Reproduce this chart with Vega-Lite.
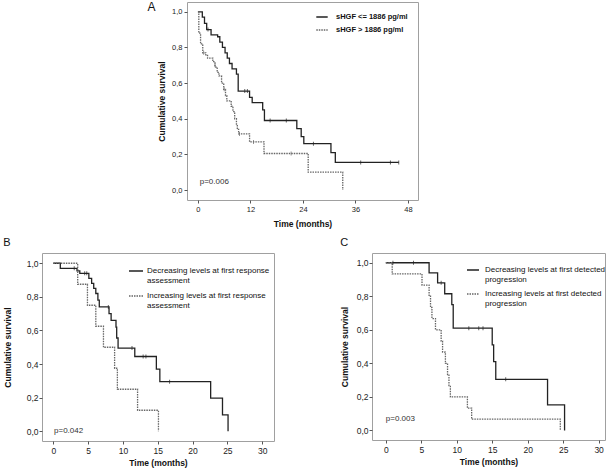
{
  "$schema": "https://vega.github.io/schema/vega-lite/v6.json",
  "padding": {"left": 2, "top": 0, "right": 0, "bottom": 0},
  "background": "white",
  "config": {
    "font": "Liberation Sans",
    "view": {"stroke": "#a0a0a0", "strokeWidth": 1},
    "axis": {"grid": false, "domain": false, "ticks": true, "tickColor": "#555", "tickSize": 3, "labelColor": "#222", "labelFont": "Liberation Sans", "titleFont": "Liberation Sans", "titleFontWeight": "bold", "titleColor": "#111", "labelPadding": 2, "titlePadding": 4, "labelOverlap": false},
    "legend": {"padding": 0, "symbolType": "stroke"},
    "title": {"fontWeight": "normal", "color": "#111", "font": "Liberation Sans"}
  },
  "resolve": {"scale": {"color": "independent", "strokeDash": "independent", "fill": "independent", "x": "independent", "y": "independent"}, "legend": {"color": "independent", "strokeDash": "independent"}},
  "datasets": {
    "A_curve": [
      {"group": "sHGF <= 1886 pg/ml", "t": 0, "S": 1},
      {"group": "sHGF <= 1886 pg/ml", "t": 1.0, "S": 0.97},
      {"group": "sHGF <= 1886 pg/ml", "t": 1.5, "S": 0.935},
      {"group": "sHGF <= 1886 pg/ml", "t": 2.0, "S": 0.9},
      {"group": "sHGF <= 1886 pg/ml", "t": 3.0, "S": 0.87},
      {"group": "sHGF <= 1886 pg/ml", "t": 4.5, "S": 0.86},
      {"group": "sHGF <= 1886 pg/ml", "t": 5.0, "S": 0.83},
      {"group": "sHGF <= 1886 pg/ml", "t": 5.6, "S": 0.8},
      {"group": "sHGF <= 1886 pg/ml", "t": 6.2, "S": 0.77},
      {"group": "sHGF <= 1886 pg/ml", "t": 6.7, "S": 0.74},
      {"group": "sHGF <= 1886 pg/ml", "t": 7.2, "S": 0.71},
      {"group": "sHGF <= 1886 pg/ml", "t": 7.8, "S": 0.68},
      {"group": "sHGF <= 1886 pg/ml", "t": 8.8, "S": 0.65},
      {"group": "sHGF <= 1886 pg/ml", "t": 9.2, "S": 0.555},
      {"group": "sHGF <= 1886 pg/ml", "t": 11.8, "S": 0.52},
      {"group": "sHGF <= 1886 pg/ml", "t": 12.4, "S": 0.49},
      {"group": "sHGF <= 1886 pg/ml", "t": 14.8, "S": 0.45},
      {"group": "sHGF <= 1886 pg/ml", "t": 15.2, "S": 0.39},
      {"group": "sHGF <= 1886 pg/ml", "t": 22.6, "S": 0.345},
      {"group": "sHGF <= 1886 pg/ml", "t": 23.6, "S": 0.3},
      {"group": "sHGF <= 1886 pg/ml", "t": 24.2, "S": 0.26},
      {"group": "sHGF <= 1886 pg/ml", "t": 30.4, "S": 0.21},
      {"group": "sHGF <= 1886 pg/ml", "t": 31.4, "S": 0.155},
      {"group": "sHGF <= 1886 pg/ml", "t": 45.9, "S": 0.155},
      {"group": "sHGF > 1886 pg/ml", "t": 0, "S": 1},
      {"group": "sHGF > 1886 pg/ml", "t": 0.2, "S": 0.88},
      {"group": "sHGF > 1886 pg/ml", "t": 0.6, "S": 0.82},
      {"group": "sHGF > 1886 pg/ml", "t": 1.1, "S": 0.77},
      {"group": "sHGF > 1886 pg/ml", "t": 1.8, "S": 0.755},
      {"group": "sHGF > 1886 pg/ml", "t": 2.2, "S": 0.74},
      {"group": "sHGF > 1886 pg/ml", "t": 3.4, "S": 0.72},
      {"group": "sHGF > 1886 pg/ml", "t": 3.9, "S": 0.69},
      {"group": "sHGF > 1886 pg/ml", "t": 4.4, "S": 0.66},
      {"group": "sHGF > 1886 pg/ml", "t": 4.8, "S": 0.64},
      {"group": "sHGF > 1886 pg/ml", "t": 5.4, "S": 0.6},
      {"group": "sHGF > 1886 pg/ml", "t": 5.9, "S": 0.565},
      {"group": "sHGF > 1886 pg/ml", "t": 6.3, "S": 0.53},
      {"group": "sHGF > 1886 pg/ml", "t": 6.6, "S": 0.5},
      {"group": "sHGF > 1886 pg/ml", "t": 7.6, "S": 0.47},
      {"group": "sHGF > 1886 pg/ml", "t": 8.0, "S": 0.44},
      {"group": "sHGF > 1886 pg/ml", "t": 8.4, "S": 0.4},
      {"group": "sHGF > 1886 pg/ml", "t": 8.8, "S": 0.37},
      {"group": "sHGF > 1886 pg/ml", "t": 9.0, "S": 0.34},
      {"group": "sHGF > 1886 pg/ml", "t": 9.3, "S": 0.315},
      {"group": "sHGF > 1886 pg/ml", "t": 11.8, "S": 0.27},
      {"group": "sHGF > 1886 pg/ml", "t": 15.1, "S": 0.205},
      {"group": "sHGF > 1886 pg/ml", "t": 25.2, "S": 0.1},
      {"group": "sHGF > 1886 pg/ml", "t": 33.1, "S": 0.0}
    ],
    "A_cens": [
      {"group": "sHGF <= 1886 pg/ml", "t": 2.3, "S": 0.9},
      {"group": "sHGF <= 1886 pg/ml", "t": 10.7, "S": 0.555},
      {"group": "sHGF <= 1886 pg/ml", "t": 11.3, "S": 0.555},
      {"group": "sHGF <= 1886 pg/ml", "t": 16.5, "S": 0.39},
      {"group": "sHGF <= 1886 pg/ml", "t": 20.2, "S": 0.39},
      {"group": "sHGF <= 1886 pg/ml", "t": 26.4, "S": 0.26},
      {"group": "sHGF <= 1886 pg/ml", "t": 37.2, "S": 0.155},
      {"group": "sHGF <= 1886 pg/ml", "t": 44.0, "S": 0.155},
      {"group": "sHGF <= 1886 pg/ml", "t": 45.9, "S": 0.155},
      {"group": "sHGF > 1886 pg/ml", "t": 1.3, "S": 0.77},
      {"group": "sHGF > 1886 pg/ml", "t": 3.9, "S": 0.7},
      {"group": "sHGF > 1886 pg/ml", "t": 6.0, "S": 0.565},
      {"group": "sHGF > 1886 pg/ml", "t": 9.5, "S": 0.315},
      {"group": "sHGF > 1886 pg/ml", "t": 12.7, "S": 0.27},
      {"group": "sHGF > 1886 pg/ml", "t": 21.3, "S": 0.205}
    ],
    "A_p": [{"t": 0.4, "S": 0.045, "label": "p=0.006"}],
    "B_curve": [
      {"group": "Decreasing levels at first response assessment", "t": 0, "S": 1},
      {"group": "Decreasing levels at first response assessment", "t": 1.0, "S": 0.97},
      {"group": "Decreasing levels at first response assessment", "t": 3.4, "S": 0.955},
      {"group": "Decreasing levels at first response assessment", "t": 3.8, "S": 0.94},
      {"group": "Decreasing levels at first response assessment", "t": 5.1, "S": 0.91},
      {"group": "Decreasing levels at first response assessment", "t": 5.5, "S": 0.88},
      {"group": "Decreasing levels at first response assessment", "t": 5.8, "S": 0.85},
      {"group": "Decreasing levels at first response assessment", "t": 6.1, "S": 0.82},
      {"group": "Decreasing levels at first response assessment", "t": 6.4, "S": 0.78},
      {"group": "Decreasing levels at first response assessment", "t": 6.6, "S": 0.74},
      {"group": "Decreasing levels at first response assessment", "t": 8.0, "S": 0.7},
      {"group": "Decreasing levels at first response assessment", "t": 8.3, "S": 0.66},
      {"group": "Decreasing levels at first response assessment", "t": 9.0, "S": 0.62},
      {"group": "Decreasing levels at first response assessment", "t": 9.1, "S": 0.555},
      {"group": "Decreasing levels at first response assessment", "t": 9.3, "S": 0.495},
      {"group": "Decreasing levels at first response assessment", "t": 11.7, "S": 0.445},
      {"group": "Decreasing levels at first response assessment", "t": 14.8, "S": 0.37},
      {"group": "Decreasing levels at first response assessment", "t": 15.3, "S": 0.295},
      {"group": "Decreasing levels at first response assessment", "t": 22.6, "S": 0.197},
      {"group": "Decreasing levels at first response assessment", "t": 24.3, "S": 0.098},
      {"group": "Decreasing levels at first response assessment", "t": 25.1, "S": 0.0},
      {"group": "Increasing levels at first response assessment", "t": 0, "S": 1},
      {"group": "Increasing levels at first response assessment", "t": 3.5, "S": 0.875},
      {"group": "Increasing levels at first response assessment", "t": 4.9, "S": 0.75},
      {"group": "Increasing levels at first response assessment", "t": 6.1, "S": 0.625},
      {"group": "Increasing levels at first response assessment", "t": 7.2, "S": 0.5},
      {"group": "Increasing levels at first response assessment", "t": 8.8, "S": 0.375},
      {"group": "Increasing levels at first response assessment", "t": 9.2, "S": 0.25},
      {"group": "Increasing levels at first response assessment", "t": 12.1, "S": 0.125},
      {"group": "Increasing levels at first response assessment", "t": 15.1, "S": 0.0}
    ],
    "B_cens": [
      {"group": "Decreasing levels at first response assessment", "t": 3.0, "S": 0.97},
      {"group": "Decreasing levels at first response assessment", "t": 4.5, "S": 0.94},
      {"group": "Decreasing levels at first response assessment", "t": 4.8, "S": 0.94},
      {"group": "Decreasing levels at first response assessment", "t": 7.9, "S": 0.74},
      {"group": "Decreasing levels at first response assessment", "t": 11.3, "S": 0.495},
      {"group": "Decreasing levels at first response assessment", "t": 12.9, "S": 0.445},
      {"group": "Decreasing levels at first response assessment", "t": 13.3, "S": 0.445},
      {"group": "Decreasing levels at first response assessment", "t": 16.7, "S": 0.295}
    ],
    "B_p": [{"t": 0.1, "S": 0.0, "label": "p=0.042"}],
    "C_curve": [
      {"group": "Decreasing levels at first detected progression", "t": 0, "S": 1},
      {"group": "Decreasing levels at first detected progression", "t": 6.1, "S": 0.94},
      {"group": "Decreasing levels at first detected progression", "t": 7.3, "S": 0.88},
      {"group": "Decreasing levels at first detected progression", "t": 8.3, "S": 0.815},
      {"group": "Decreasing levels at first detected progression", "t": 9.3, "S": 0.75},
      {"group": "Decreasing levels at first detected progression", "t": 9.5, "S": 0.61},
      {"group": "Decreasing levels at first detected progression", "t": 15.0, "S": 0.51},
      {"group": "Decreasing levels at first detected progression", "t": 15.2, "S": 0.41},
      {"group": "Decreasing levels at first detected progression", "t": 15.5, "S": 0.305},
      {"group": "Decreasing levels at first detected progression", "t": 22.8, "S": 0.153},
      {"group": "Decreasing levels at first detected progression", "t": 25.2, "S": 0.0},
      {"group": "Increasing levels at first detected progression", "t": 0, "S": 1},
      {"group": "Increasing levels at first detected progression", "t": 0.9, "S": 0.933},
      {"group": "Increasing levels at first detected progression", "t": 5.1, "S": 0.867},
      {"group": "Increasing levels at first detected progression", "t": 6.1, "S": 0.8},
      {"group": "Increasing levels at first detected progression", "t": 6.3, "S": 0.733},
      {"group": "Increasing levels at first detected progression", "t": 6.5, "S": 0.667},
      {"group": "Increasing levels at first detected progression", "t": 7.0, "S": 0.6},
      {"group": "Increasing levels at first detected progression", "t": 7.8, "S": 0.533},
      {"group": "Increasing levels at first detected progression", "t": 8.0, "S": 0.467},
      {"group": "Increasing levels at first detected progression", "t": 8.4, "S": 0.4},
      {"group": "Increasing levels at first detected progression", "t": 8.7, "S": 0.333},
      {"group": "Increasing levels at first detected progression", "t": 8.9, "S": 0.267},
      {"group": "Increasing levels at first detected progression", "t": 9.1, "S": 0.2},
      {"group": "Increasing levels at first detected progression", "t": 11.5, "S": 0.133},
      {"group": "Increasing levels at first detected progression", "t": 12.1, "S": 0.067},
      {"group": "Increasing levels at first detected progression", "t": 24.6, "S": 0.0}
    ],
    "C_cens": [
      {"group": "Decreasing levels at first detected progression", "t": 1.0, "S": 1.0},
      {"group": "Decreasing levels at first detected progression", "t": 3.9, "S": 1.0},
      {"group": "Decreasing levels at first detected progression", "t": 7.8, "S": 0.88},
      {"group": "Decreasing levels at first detected progression", "t": 11.7, "S": 0.61},
      {"group": "Decreasing levels at first detected progression", "t": 13.1, "S": 0.61},
      {"group": "Decreasing levels at first detected progression", "t": 13.7, "S": 0.61},
      {"group": "Decreasing levels at first detected progression", "t": 16.9, "S": 0.305}
    ],
    "C_p": [{"t": 0.0, "S": 0.067, "label": "p=0.003"}]
  },
  "spacing": 7,
  "vconcat": [
    {
      "spacing": 0,
      "resolve": {"scale": {"color": "independent", "strokeDash": "independent", "fill": "independent", "x": "independent", "y": "independent"}, "legend": {"color": "independent", "strokeDash": "independent"}},
      "hconcat": [
        {"width": 105, "height": 10, "data": {"values": []}, "mark": "point", "encoding": {}, "view": {"stroke": null}},
        {
          "width": 231, "height": 198,
          "title": {"text": "A", "orient": "left", "anchor": "end", "angle": 0, "baseline": "top", "align": "right", "offset": -6, "fontSize": 12, "frame": "group"},
          "layer": [
            {
              "data": {"name": "A_curve"},
              "mark": {"type": "line", "interpolate": "step-after", "strokeWidth": 1.3},
              "encoding": {
                "x": {"field": "t", "type": "quantitative", "scale": {"domain": [-2.5, 50.3], "nice": false, "zero": false}, "axis": {"values": [0, 12, 24, 36, 48], "tickCount": 20, "title": "Time (months)", "labelFontSize": 7.5, "titleFontSize": 8.5, "titlePadding": 7, "labelOverlap": false}},
                "y": {"field": "S", "type": "quantitative", "scale": {"domain": [-0.056, 1.055], "nice": false, "zero": false}, "axis": {"values": [0, 0.2, 0.4, 0.6, 0.8, 1], "tickCount": 20, "labelExpr": "replace(format(datum.value, '.1f'), '.', ',')", "title": "Cumulative survival", "labelFontSize": 7.5, "titleFontSize": 8.5, "titlePadding": 5, "labelOverlap": false}},
                "color": {"field": "group", "type": "nominal", "scale": {"domain": ["sHGF <= 1886 pg/ml", "sHGF > 1886 pg/ml"], "range": ["#222222", "#666666"]}, "legend": {"title": null, "orient": "none", "legendX": 128, "legendY": 8, "labelFontSize": 7.5, "labelFontWeight": "bold", "labelColor": "#111", "symbolSize": 130, "symbolStrokeWidth": 1.6, "rowPadding": 2, "labelOffset": 7}},
                "strokeDash": {"field": "group", "type": "nominal", "scale": {"domain": ["sHGF <= 1886 pg/ml", "sHGF > 1886 pg/ml"], "range": [[1, 0], [1.5, 1]]}, "legend": {"title": null, "orient": "none", "legendX": 128, "legendY": 8, "labelFontSize": 7.5, "labelFontWeight": "bold", "labelColor": "#111", "symbolSize": 130, "symbolStrokeWidth": 1.6, "rowPadding": 2, "labelOffset": 7}}
              }
            },
            {
              "data": {"name": "A_cens"},
              "mark": {"type": "tick", "orient": "vertical", "size": 4, "thickness": 1},
              "encoding": {
                "x": {"field": "t", "type": "quantitative"},
                "y": {"field": "S", "type": "quantitative"},
                "fill": {"field": "group", "type": "nominal", "scale": {"domain": ["sHGF <= 1886 pg/ml", "sHGF > 1886 pg/ml"], "range": ["#222222", "#666666"]}, "legend": null}
              }
            },
            {
              "data": {"name": "A_p"},
              "mark": {"type": "text", "align": "left", "baseline": "middle", "fontSize": 8, "color": "#333"},
              "encoding": {"x": {"field": "t", "type": "quantitative"}, "y": {"field": "S", "type": "quantitative"}, "text": {"field": "label"}}
            }
          ]
        }
      ]
    },
    {
      "spacing": 64,
      "resolve": {"scale": {"color": "independent", "strokeDash": "independent", "fill": "independent", "x": "independent", "y": "independent"}, "legend": {"color": "independent", "strokeDash": "independent"}},
      "hconcat": [
        {
          "width": 232, "height": 188,
          "title": {"text": "B", "anchor": "start", "frame": "bounds", "offset": 5, "fontSize": 11},
          "layer": [
            {
              "data": {"name": "B_curve"},
              "mark": {"type": "line", "interpolate": "step-after", "strokeWidth": 1.3},
              "encoding": {
                "x": {"field": "t", "type": "quantitative", "scale": {"domain": [-1.63, 31.7], "nice": false, "zero": false}, "axis": {"values": [0, 5, 10, 15, 20, 25, 30], "tickCount": 20, "title": "Time (months)", "labelFontSize": 8.5, "titleFontSize": 8.5, "labelOverlap": false}},
                "y": {"field": "S", "type": "quantitative", "scale": {"domain": [-0.058, 1.061], "nice": false, "zero": false}, "axis": {"values": [0, 0.2, 0.4, 0.6, 0.8, 1], "tickCount": 20, "labelExpr": "replace(format(datum.value, '.1f'), '.', ',')", "title": "Cumulative survival", "labelFontSize": 8.5, "titleFontSize": 8.5, "titlePadding": 14, "labelPadding": 1, "labelOverlap": false}},
                "color": {"field": "group", "type": "nominal", "scale": {"domain": ["Decreasing levels at first response assessment", "Increasing levels at first response assessment"], "range": ["#222222", "#666666"]}, "legend": {"title": null, "orient": "none", "legendX": 86, "legendY": 10, "labelFontSize": 8, "labelColor": "#111", "symbolSize": 196, "symbolStrokeWidth": 1.6, "rowPadding": 3, "labelOffset": 3, "labelLimit": 300, "labelExpr": "datum.label == 'Decreasing levels at first response assessment' ? ['Decreasing levels at first response', 'assessment'] : ['Increasing levels at first response', 'assessment']"}},
                "strokeDash": {"field": "group", "type": "nominal", "scale": {"domain": ["Decreasing levels at first response assessment", "Increasing levels at first response assessment"], "range": [[1, 0], [1.5, 1]]}, "legend": {"title": null, "orient": "none", "legendX": 86, "legendY": 10, "labelFontSize": 8, "labelColor": "#111", "symbolSize": 196, "symbolStrokeWidth": 1.6, "rowPadding": 3, "labelOffset": 3, "labelLimit": 300, "labelExpr": "datum.label == 'Decreasing levels at first response assessment' ? ['Decreasing levels at first response', 'assessment'] : ['Increasing levels at first response', 'assessment']"}}
              }
            },
            {
              "data": {"name": "B_cens"},
              "mark": {"type": "tick", "orient": "vertical", "size": 4, "thickness": 1},
              "encoding": {
                "x": {"field": "t", "type": "quantitative"},
                "y": {"field": "S", "type": "quantitative"},
                "fill": {"field": "group", "type": "nominal", "scale": {"domain": ["Decreasing levels at first response assessment", "Increasing levels at first response assessment"], "range": ["#222222", "#666666"]}, "legend": null}
              }
            },
            {
              "data": {"name": "B_p"},
              "mark": {"type": "text", "align": "left", "baseline": "middle", "fontSize": 8, "color": "#333"},
              "encoding": {"x": {"field": "t", "type": "quantitative"}, "y": {"field": "S", "type": "quantitative"}, "text": {"field": "label"}}
            }
          ]
        },
        {
          "width": 233, "height": 187,
          "title": {"text": "C", "anchor": "start", "frame": "bounds", "offset": 5, "fontSize": 11},
          "layer": [
            {
              "data": {"name": "C_curve"},
              "mark": {"type": "line", "interpolate": "step-after", "strokeWidth": 1.3},
              "encoding": {
                "x": {"field": "t", "type": "quantitative", "scale": {"domain": [-1.95, 30.9], "nice": false, "zero": false}, "axis": {"values": [0, 5, 10, 15, 20, 25, 30], "tickCount": 20, "title": "Time (months)", "labelFontSize": 8.5, "titleFontSize": 8.5, "labelOverlap": false}},
                "y": {"field": "S", "type": "quantitative", "scale": {"domain": [-0.057, 1.058], "nice": false, "zero": false}, "axis": {"values": [0, 0.2, 0.4, 0.6, 0.8, 1], "tickCount": 20, "labelExpr": "replace(format(datum.value, '.1f'), '.', ',')", "title": "Cumulative survival", "labelFontSize": 8.5, "titleFontSize": 8.5, "titlePadding": 7, "labelPadding": 1, "labelOverlap": false}},
                "color": {"field": "group", "type": "nominal", "scale": {"domain": ["Decreasing levels at first detected progression", "Increasing levels at first detected progression"], "range": ["#222222", "#666666"]}, "legend": {"title": null, "orient": "none", "legendX": 94, "legendY": 10, "labelFontSize": 8, "labelColor": "#111", "symbolSize": 144, "symbolStrokeWidth": 1.6, "rowPadding": 3, "labelOffset": 5, "labelLimit": 300, "labelExpr": "datum.label == 'Decreasing levels at first detected progression' ? ['Decreasing levels at first detected', 'progression'] : ['Increasing levels at first detected', 'progression']"}},
                "strokeDash": {"field": "group", "type": "nominal", "scale": {"domain": ["Decreasing levels at first detected progression", "Increasing levels at first detected progression"], "range": [[1, 0], [1.5, 1]]}, "legend": {"title": null, "orient": "none", "legendX": 94, "legendY": 10, "labelFontSize": 8, "labelColor": "#111", "symbolSize": 144, "symbolStrokeWidth": 1.6, "rowPadding": 3, "labelOffset": 5, "labelLimit": 300, "labelExpr": "datum.label == 'Decreasing levels at first detected progression' ? ['Decreasing levels at first detected', 'progression'] : ['Increasing levels at first detected', 'progression']"}}
              }
            },
            {
              "data": {"name": "C_cens"},
              "mark": {"type": "tick", "orient": "vertical", "size": 4, "thickness": 1},
              "encoding": {
                "x": {"field": "t", "type": "quantitative"},
                "y": {"field": "S", "type": "quantitative"},
                "fill": {"field": "group", "type": "nominal", "scale": {"domain": ["Decreasing levels at first detected progression", "Increasing levels at first detected progression"], "range": ["#222222", "#666666"]}, "legend": null}
              }
            },
            {
              "data": {"name": "C_p"},
              "mark": {"type": "text", "align": "left", "baseline": "middle", "fontSize": 8, "color": "#333"},
              "encoding": {"x": {"field": "t", "type": "quantitative"}, "y": {"field": "S", "type": "quantitative"}, "text": {"field": "label"}}
            }
          ]
        }
      ]
    }
  ]
}
